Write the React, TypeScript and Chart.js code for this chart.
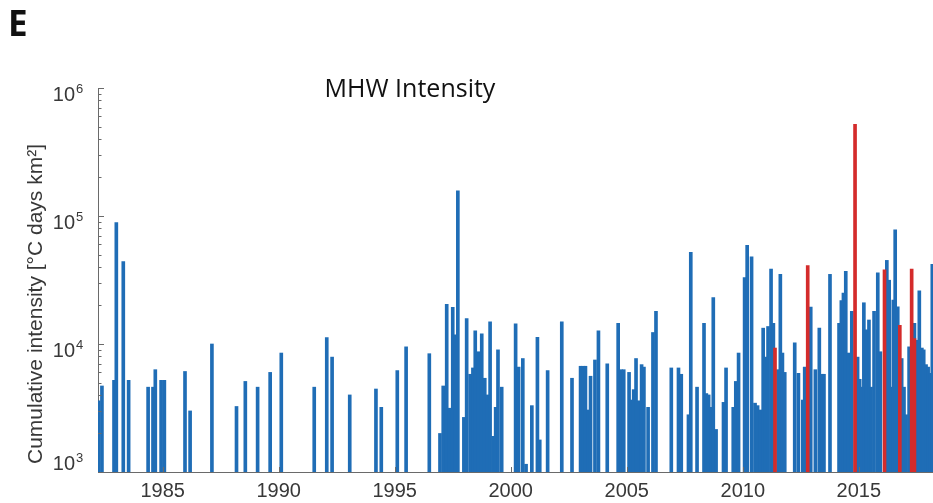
import { useEffect, useRef } from "react";
import { Chart, registerables } from "chart.js";

Chart.register(...registerables);

// Marine heatwave events: onset (decimal year) and cumulative intensity [°C days km²]
const eventYears = [
  1982.24, 1982.38, 1982.9, 1983.0, 1983.3, 1983.53, 1984.37, 1984.58, 1984.68, 1984.93,
  1985.07, 1985.96, 1986.18, 1987.12, 1988.18, 1988.56, 1989.09, 1989.63, 1990.11, 1991.53,
  1992.07, 1992.3, 1993.06, 1994.19, 1994.42, 1995.11, 1995.49, 1996.49, 1996.95, 1997.09,
  1997.24, 1997.37, 1997.5, 1997.62, 1997.72, 1997.98, 1998.1, 1998.25, 1998.37, 1998.47,
  1998.6, 1998.75, 1998.88, 1998.99, 1999.11, 1999.24, 1999.35, 1999.45, 1999.61, 2000.21,
  2000.34, 2000.52, 2000.66, 2000.91, 2001.15, 2001.25, 2001.59, 2002.2, 2002.64, 2003.01,
  2003.12, 2003.22, 2003.33, 2003.44, 2003.63, 2003.78, 2004.16, 2004.63, 2004.75, 2004.87,
  2005.1, 2005.2, 2005.3, 2005.4, 2005.52, 2005.64, 2005.74, 2005.92, 2006.13, 2006.26,
  2006.92, 2007.23, 2007.35, 2007.66, 2007.76, 2008.03, 2008.33, 2008.43, 2008.53, 2008.63,
  2008.73, 2008.85, 2009.17, 2009.28, 2009.59, 2009.7, 2009.82, 2010.08, 2010.19, 2010.38,
  2010.53, 2010.64, 2010.75, 2010.88, 2010.98, 2011.09, 2011.22, 2011.32, 2011.52, 2011.62,
  2011.71, 2011.81, 2012.24, 2012.4, 2012.59, 2012.67, 2012.93, 2013.13, 2013.3, 2013.42,
  2013.5, 2013.76, 2014.15, 2014.25, 2014.34, 2014.44, 2014.55, 2014.7, 2014.95, 2015.04,
  2015.13, 2015.22, 2015.34, 2015.44, 2015.53, 2015.66, 2015.82, 2015.93, 2016.21, 2016.31,
  2016.41, 2016.49, 2016.57, 2016.68, 2016.85, 2016.95, 2017.04, 2017.17, 2017.4, 2017.51,
  2017.61, 2017.72, 2017.8, 2017.9, 2017.99, 2018.07, 2018.17,
];
const eventIntensity = [
  3600, 4700, 5200, 89000, 44000, 5200, 4600, 4600, 6300, 5200,
  5200, 6100, 3000, 10000, 3250, 5100, 4600, 6000, 8500, 4600,
  11200, 7900, 4000, 4450, 3200, 6200, 9500, 8400, 2000, 4700,
  20400, 3150, 19300, 11800, 157000, 2670, 15800, 5800, 6500, 12700,
  8700, 12000, 5400, 4000, 14900, 1900, 3200, 9000, 4600, 14400,
  6600, 7700, 1150, 3300, 11300, 1780, 6200, 14900, 5400, 6700,
  6700, 6700, 3050, 5600, 7500, 12700, 7000, 14500, 6300, 6300,
  6000, 3650, 4400, 7700, 3600, 6900, 6600, 3200, 12300, 18000,
  6500, 6500, 5800, 2800, 52000, 4600, 14500, 4100, 4000, 3200,
  23000, 2150, 3500, 6500, 3200, 5100, 8500, 33000, 59000, 48000,
  3450, 3300, 3050, 13300, 7900, 13700, 38500, 14500, 6300, 35000,
  8500, 6000, 10200, 5900, 3650, 6600, 19400, 6300, 13300, 5800,
  5800, 35000, 14500, 21800, 25000, 37000, 8500, 18000, 7900, 5300,
  4600, 21000, 12900, 15400, 4600, 18000, 36000, 8700, 45000, 31500,
  4600, 22000, 78000, 19500, 7700, 4600, 2800, 9500, 14500, 10700,
  26000, 9300, 9000, 6900, 6600, 5900, 42000,
];

// Highlighted events (drawn in red)
const highlightYears = [2011.39, 2012.8, 2014.84, 2016.11, 2016.77, 2017.28, 2017.4];
const highlightIntensity = [9300, 41000, 520000, 38000, 14000, 38500, 11000];

const yearTicks = [1985, 1990, 1995, 2000, 2005, 2010, 2015];
const decadeExponents = [3, 4, 5, 6];
const xStart = 1982.21;
const xEnd = 2018.2;

const SANS = "'Liberation Sans', Arial, sans-serif";
const TEXT = "#383838";
const AXIS = "#6a6a6a";

const decorations = {
  id: "decorations",
  afterDraw(chart: any) {
    const { ctx, chartArea, scales } = chart;
    const xs = scales.x;
    const ys = scales.y;
    ctx.save();

    // inward tick marks
    ctx.strokeStyle = AXIS;
    ctx.lineWidth = 1;
    ctx.beginPath();
    for (const e of decadeExponents) {
      for (let k = 1; k <= 9; k++) {
        const v = k * Math.pow(10, e);
        if (v > ys.max * 1.0001) break;
        const py = Math.round(ys.getPixelForValue(v)) + 0.5;
        const len = k === 1 ? 6 : 3.5;
        ctx.moveTo(chartArea.left, py);
        ctx.lineTo(chartArea.left + len, py);
      }
    }
    for (const yr of yearTicks) {
      const px = Math.round(xs.getPixelForValue(yr)) + 0.5;
      ctx.moveTo(px, chartArea.bottom);
      ctx.lineTo(px, chartArea.bottom - 5);
    }
    ctx.stroke();

    ctx.fillStyle = TEXT;

    // x tick labels
    ctx.font = `20px ${SANS}`;
    ctx.textAlign = "center";
    ctx.textBaseline = "alphabetic";
    for (const yr of yearTicks) {
      ctx.fillText(String(yr), xs.getPixelForValue(yr), chartArea.bottom + 25);
    }

    // y tick labels: 10 with superscript exponent
    for (const e of decadeExponents) {
      const py = ys.getPixelForValue(Math.pow(10, e));
      const base = Math.min(py + 13, chartArea.bottom - 2);
      ctx.font = `20px ${SANS}`;
      ctx.textAlign = "right";
      ctx.fillText("10", chartArea.left - 23, base);
      ctx.font = `13px ${SANS}`;
      ctx.textAlign = "left";
      ctx.fillText(String(e), chartArea.left - 22, base - 8);
    }

    // y axis title
    ctx.save();
    ctx.translate(42, 304);
    ctx.rotate(-Math.PI / 2);
    ctx.font = `21px ${SANS}`;
    ctx.textAlign = "center";
    ctx.textBaseline = "alphabetic";
    ctx.fillStyle = TEXT;
    ctx.fillText("Cumulative intensity [°C days km²]", 0, 0);
    ctx.restore();

    // chart title
    ctx.font = `25px 'Open Sans', sans-serif`;
    ctx.fillStyle = "#111";
    ctx.textAlign = "center";
    ctx.textBaseline = "alphabetic";
    ctx.fillText("MHW Intensity", 410, 97);

    // panel letter
    ctx.font = `bold 35px 'Open Sans', sans-serif`;
    ctx.textAlign = "left";
    ctx.fillStyle = "#111";
    ctx.fillText("E", 8, 36);

    ctx.restore();
  },
};

export default function App() {
  const canvasRef = useRef<HTMLCanvasElement | null>(null);

  useEffect(() => {
    const canvas = canvasRef.current;
    if (!canvas) return;
    const chart = new Chart(canvas, {
      type: "bar",
      data: {
        datasets: [
          {
            label: "Highlighted events",
            data: highlightYears.map((x, i) => ({ x, y: highlightIntensity[i] })),
            backgroundColor: "#d42b2b",
            barThickness: 3,
            grouped: false,
            order: 0,
          },
          {
            label: "MHW events",
            data: eventYears.map((x, i) => ({ x, y: eventIntensity[i] })),
            backgroundColor: "#1f6db6",
            barThickness: 3,
            grouped: false,
            order: 1,
          },
        ],
      } as any,
      options: {
        animation: false,
        responsive: false,
        devicePixelRatio: 1,
        layout: { padding: { left: 98, top: 88, right: 0, bottom: 0 } },
        plugins: {
          legend: { display: false },
          tooltip: { enabled: false },
          title: { display: false },
        },
        scales: {
          x: {
            type: "linear",
            min: xStart,
            max: xEnd,
            offset: false,
            grid: { display: false },
            border: { display: true, color: AXIS, width: 1 },
            afterBuildTicks: (axis: any) => {
              axis.ticks = yearTicks.map((v) => ({ value: v }));
            },
            afterFit: (axis: any) => {
              axis.height = 31;
            },
            ticks: { display: false },
          },
          y: {
            type: "logarithmic",
            min: 1000,
            max: 1000000,
            grid: { display: false },
            border: { display: true, color: AXIS, width: 1 },
            ticks: { display: false },
            afterFit: (axis: any) => {
              axis.width = 0;
            },
          },
        },
      } as any,
      plugins: [decorations],
    });
    return () => chart.destroy();
  }, []);

  return (
    <div style={{ position: "absolute", left: 0, top: 0, width: 933, height: 503, background: "#fff" }}>
      <canvas ref={canvasRef} width={933} height={503} style={{ display: "block" }} />
    </div>
  );
}
